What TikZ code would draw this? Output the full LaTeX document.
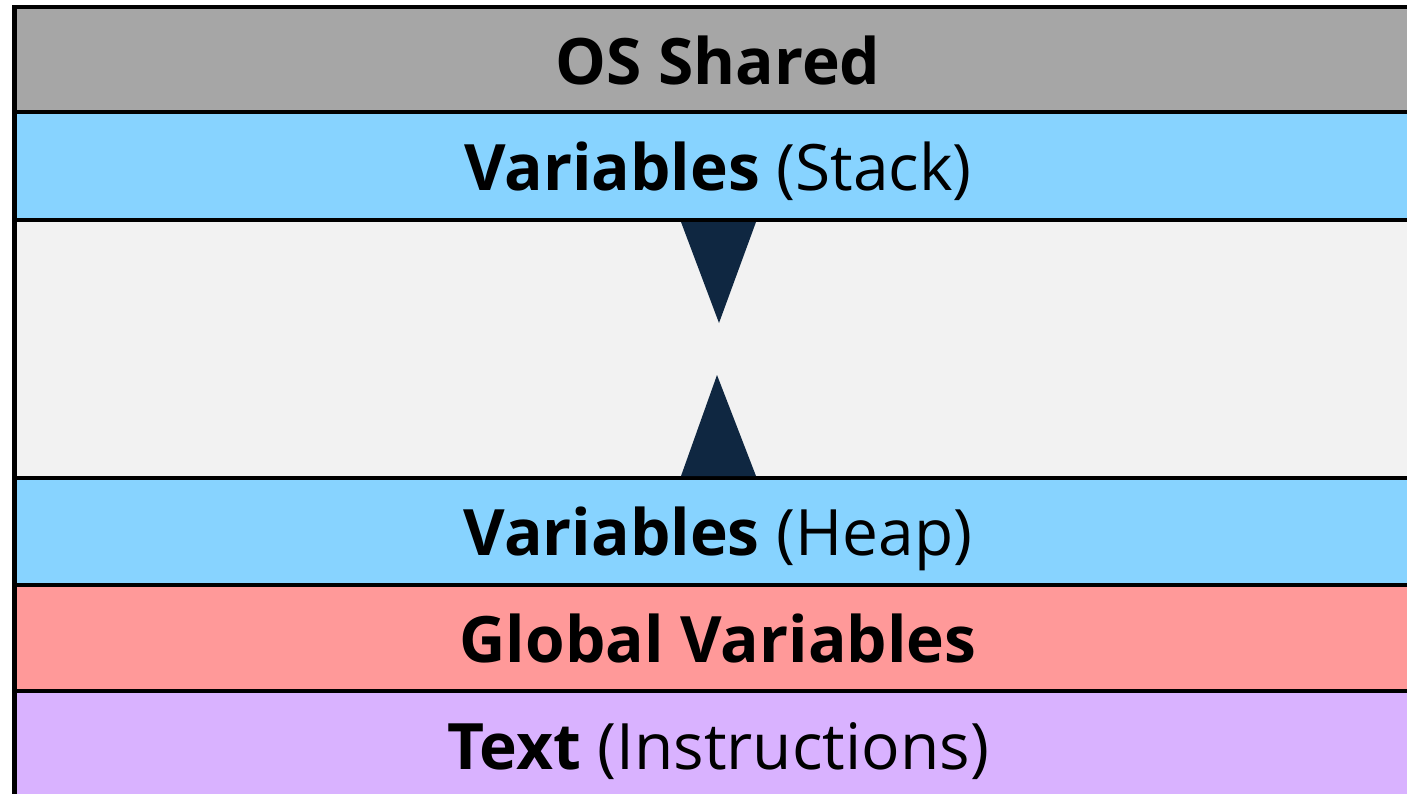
\documentclass[tikz,border=0pt]{standalone}
\usepackage{fontspec}
\setmainfont{Open Sans}
\definecolor{osgray}{HTML}{A6A6A6}
\definecolor{varblue}{HTML}{87D3FF}
\definecolor{freegray}{HTML}{F2F2F2}
\definecolor{globred}{HTML}{FF9999}
\definecolor{textpurple}{HTML}{D9B2FF}
\definecolor{arrownavy}{HTML}{0F2741}
\begin{document}
\begin{tikzpicture}[x=1bp,y=-1bp]
\tikzset{
  band/.style={draw=black, line width=4.5bp},
  lbl/.style={anchor=base, inner sep=0pt, font=\fontsize{64bp}{78bp}\selectfont},
  growth/.style={fill=arrownavy}
}
\useasboundingbox (0,0) rectangle (1407,793);
\clip (0,0) rectangle (1407,793);
% memory segments, top (high addresses) to bottom
\path[band, fill=osgray]     (14.5,7)   rectangle (1440,112);
\path[band, fill=varblue]    (14.5,112) rectangle (1440,220);
\path[band, fill=freegray]   (14.5,220) rectangle (1440,478);
\path[band, fill=varblue]    (14.5,478) rectangle (1440,585);
\path[band, fill=globred]    (14.5,585) rectangle (1440,691);
\path[band, fill=textpurple] (14.5,691) rectangle (1440,830);
% stack grows down, heap grows up
\fill[growth] (681,222) -- (756,222) -- (719,323) -- cycle;
\fill[growth] (681,476) -- (756,476) -- (717,375) -- cycle;
% labels
\node[lbl] (os)     at (718,84)  {\textbf{OS Shared}};
\node[lbl] (stack)  at (718,190) {\textbf{Variables} (Stack)};
\node[lbl] (heap)   at (718,555) {\textbf{Variables} (Heap)};
\node[lbl] (global) at (718,662) {\textbf{Global Variables}};
\node[lbl] (text)   at (718,769) {\textbf{Text} (Instructions)};
\end{tikzpicture}
\end{document}
